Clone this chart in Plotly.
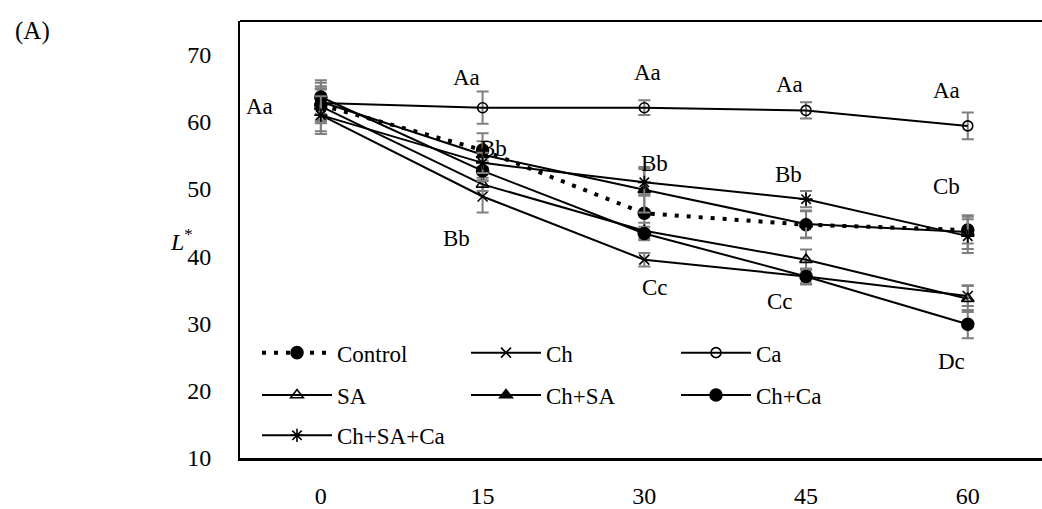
import plotly.graph_objects as go

# ---------------- data ----------------
days = ["0", "15", "30", "45", "60"]
series_names = ["Control", "Ch", "Ca", "SA", "Ch+SA", "Ch+Ca", "Ch+SA+Ca"]

control = [62.5, 55.8, 46.4, 44.7, 43.9]
ch = [61.0, 48.9, 39.5, 37.0, 34.1]
ca = [62.8, 62.1, 62.1, 61.7, 59.4]
sa = [62.3, 50.7, 43.8, 39.5, 33.7]
ch_sa = [63.0, 55.1, 49.9, 44.8, 43.6]
ch_ca = [63.7, 52.7, 43.4, 37.0, 29.9]
ch_sa_ca = [61.0, 53.9, 51.0, 48.5, 43.0]

err_control = [2.5, 2.5, 2.8, 2.0, 2.0]
err_ch = [2.4, 2.4, 1.0, 1.0, 1.5]
err_ca = [2.5, 2.4, 1.1, 1.2, 2.0]
err_sa = [2.5, 1.0, 1.2, 1.5, 2.0]
err_ch_sa = [2.8, 2.0, 3.4, 2.0, 2.5]
err_ch_ca = [2.5, 1.5, 1.0, 1.2, 2.1]
err_ch_sa_ca = [2.8, 1.5, 2.0, 1.2, 2.5]

y_ticks = [10, 20, 30, 40, 50, 60, 70]

# significance letters
letters = ["Aa", "Aa", "Bb", "Bb", "Aa", "Bb", "Cc", "Aa", "Bb", "Cc", "Aa", "Cb", "Dc"]

# ---------------- styling / placement ----------------
FONT = "Liberation Serif"
FS = 23
letter_pos = [(-0.377, 62.3), (0.901, 66.6), (1.066, 56.1), (0.839, 42.7),
              (2.022, 67.3), (2.066, 53.8), (2.066, 35.4),
              (2.900, 65.6), (2.890, 52.2), (2.839, 33.3),
              (3.869, 64.7), (3.869, 50.4), (3.900, 24.4)]

values = [control, ch, ca, sa, ch_sa, ch_ca, ch_sa_ca]
errors = [err_control, err_ch, err_ca, err_sa, err_ch_sa, err_ch_ca, err_ch_sa_ca]
symbols = ["circle", "x-thin-open", "circle-open", "triangle-up-open",
           "triangle-up", "circle", "asterisk-open"]
msizes = [12, 10, 10, 11, 11, 12, 11]
# legend grid: (column, row) for each series
legend_cells = [(0, 0), (1, 0), (2, 0), (0, 1), (1, 1), (2, 1), (0, 2)]
col_px = [257, 466, 676]
row_px = [358, 401, 442]
PLOT_L, PLOT_T, PLOT_B, PLOT_W = 240, 21, 465, 802
PLOT_H = PLOT_B - PLOT_T

fig = go.Figure()
legend_layouts = {}
for i, (name, v, e, sym, ms, cell) in enumerate(
        zip(series_names, values, errors, symbols, msizes, legend_cells)):
    dotted = name == "Control"
    lg = "legend" if i == 0 else f"legend{i + 1}"
    fig.add_trace(go.Scatter(
        x=days, y=v, name=name, mode="lines+markers",
        line=dict(color="black", width=4 if dotted else 2,
                  dash="4px,8px" if dotted else "solid"),
        marker=dict(symbol=sym, size=ms, color="black",
                    line=dict(color="black", width=1.6)),
        error_y=dict(type="data", array=e, visible=True, color="#7f7f7f",
                     thickness=2, width=6),
        legend=lg, showlegend=True,
    ))
    c, r = cell
    legend_layouts[lg] = dict(
        x=(col_px[c] - PLOT_L) / PLOT_W, y=(PLOT_B - row_px[r]) / PLOT_H,
        xref="paper", yref="paper", xanchor="left", yanchor="middle",
        orientation="v", itemwidth=70, bgcolor="rgba(0,0,0,0)", borderwidth=0,
        font=dict(family=FONT, size=FS, color="black"))

annotations = []
for t, (ax, ay) in zip(letters, letter_pos):
    annotations.append(dict(x=ax, y=ay, xref="x", yref="y", text=t, showarrow=False,
                            font=dict(family=FONT, size=FS, color="black")))
annotations.append(dict(x=(168 - PLOT_L) / PLOT_W, y=42.5, xref="paper", yref="y",
                        text="<i>L</i><sup>*</sup>", showarrow=False,
                        font=dict(family=FONT, size=FS + 1, color="black")))
annotations.append(dict(x=(33 - PLOT_L) / PLOT_W, y=(PLOT_B - 31) / PLOT_H,
                        xref="paper", yref="paper", text="(A)",
                        showarrow=False, xanchor="center", yanchor="middle",
                        font=dict(family=FONT, size=FS + 2, color="black")))

fig.update_layout(
    width=1042, height=509,
    showlegend=True,
    margin=dict(l=PLOT_L, r=0, t=PLOT_T, b=509 - PLOT_B, pad=0),
    paper_bgcolor="white", plot_bgcolor="white",
    font=dict(family=FONT, size=FS, color="black"),
    xaxis=dict(type="category", range=[-0.5, 4.459], showgrid=False, zeroline=False,
               showline=True, linecolor="black", linewidth=2.5, ticks="",
               ticklabelstandoff=14, tickfont=dict(family=FONT, size=FS + 1)),
    yaxis=dict(range=[10, 75], tickvals=y_ticks, showgrid=False, zeroline=False,
               showline=True, linecolor="black", linewidth=2, ticks="",
               ticklabelstandoff=22, tickfont=dict(family=FONT, size=FS + 1)),
    annotations=annotations,
    shapes=[dict(type="line", xref="paper", yref="paper", x0=0, x1=1, y0=1, y1=1,
                 line=dict(color="black", width=2))],
    **legend_layouts,
)

fig.write_html("out.html")
